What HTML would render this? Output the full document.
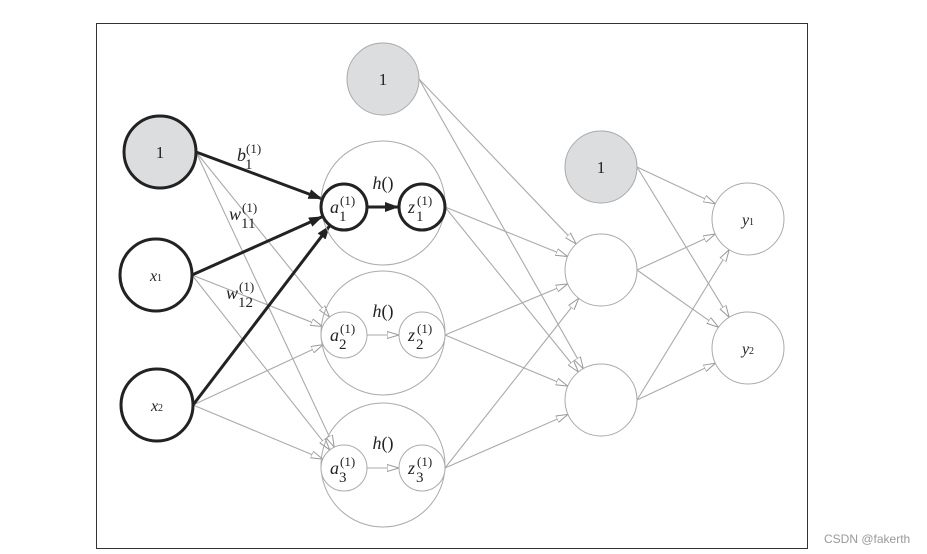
<!DOCTYPE html>
<html><head><meta charset="utf-8"><style>
html,body{margin:0;padding:0;background:#fff;width:927px;height:554px;overflow:hidden}
svg{display:block}
text{font-family:"Liberation Serif",serif;fill:#222}
.it{font-style:italic}
</style></head><body>
<svg id="s" width="927" height="554" viewBox="0 0 927 554" xmlns="http://www.w3.org/2000/svg">
<defs>
<marker id="ho" viewBox="0 0 12 8" refX="12" refY="4" markerWidth="12" markerHeight="8" markerUnits="userSpaceOnUse" orient="auto"><path d="M0,0.5 L12,4 L0,7.5 Z" fill="#fff" stroke="#999" stroke-width="1"/></marker>
<marker id="hf" viewBox="0 0 14 10" refX="14" refY="5" markerWidth="14" markerHeight="10" markerUnits="userSpaceOnUse" orient="auto"><path d="M0,0 L14,5 L0,10 Z" fill="#222"/></marker>
</defs>
<rect x="96.5" y="23.5" width="711" height="525" fill="none" stroke="#333" stroke-width="1"/>
<g id="edges"></g>
<g id="nodes"></g>
<text x="824" y="543" style="font-family:'Liberation Sans',sans-serif;font-size:12px;fill:#999">CSDN @fakerth</text>
</svg>
<script>
const NS="http://www.w3.org/2000/svg";
const E=document.getElementById('edges'),N=document.getElementById('nodes');
function el(p,t,a){const e=document.createElementNS(NS,t);for(const k in a)e.setAttribute(k,a[k]);p.appendChild(e);return e;}
const n={
 b1:[160,152,36],x1:[156,275,36],x2:[157,405,36],
 tb:[383,79,36],
 a1:[344,207,23],z1:[422,207,23],a2:[344,335,23],z2:[422,335,23],a3:[344,468,23],z3:[422,468,23],
 b2:[601,167,36],h1:[601,270,36],h2:[601,400,36],y1:[748,219,36],y2:[748,348,36]};
function edge(a,b,thick){const A=n[a],B=n[b];const sx=A[0]+A[2],sy=A[1];
 const dx=B[0]-sx,dy=B[1]-sy,d=Math.hypot(dx,dy);
 const ux=dx/d,uy=dy/d;
 el(E,'line',{x1:sx,y1:sy,x2:B[0]-ux*B[2],y2:B[1]-uy*B[2],stroke:thick?'#222':'#aaa','stroke-width':thick?3:1.1,'marker-end':thick?'url(#hf)':'url(#ho)'});}
['b1','x1','x2'].forEach(s=>{edge(s,'a2');edge(s,'a3');});
edge('a2','z2');edge('a3','z3');
['tb','z1','z2','z3'].forEach(s=>{edge(s,'h1');edge(s,'h2');});
['b2','h1','h2'].forEach(s=>{edge(s,'y1');edge(s,'y2');});
['b1','x1','x2'].forEach(s=>edge(s,'a1',1));
edge('a1','z1',1);
[203,333,465].forEach(y=>el(N,'circle',{cx:383,cy:y,r:62,fill:'none',stroke:'#aaa','stroke-width':1}));
function circ(k,fill,stroke,w){const c=n[k];el(N,'circle',{cx:c[0],cy:c[1],r:c[2],fill:fill,stroke:stroke,'stroke-width':w});}
circ('b1','#dcdddf','#222',3);circ('x1','#fff','#222',3);circ('x2','#fff','#222',3);
circ('tb','#dcdddf','#aaa',1);circ('b2','#dcdddf','#aaa',1);
['h1','h2','y1','y2'].forEach(k=>circ(k,'#fff','#aaa',1));
circ('a1','#fff','#222',3);circ('z1','#fff','#222',3);
['a2','z2','a3','z3'].forEach(k=>circ(k,'#fff','#aaa',1));
function txt(x,y,s,size){const t=el(N,'text',{x:x,y:y,'font-size':size,'text-anchor':'middle'});t.innerHTML=s;return t;}
txt(160,158,'1',17);txt(383,85,'1',17);txt(601,173,'1',17);
txt(156,281,'<tspan class="it">x</tspan><tspan font-size="10">1</tspan>',16);
txt(157,411,'<tspan class="it">x</tspan><tspan font-size="10">2</tspan>',16);
txt(748,225,'<tspan class="it">y</tspan><tspan font-size="10">1</tspan>',16);
txt(748,354,'<tspan class="it">y</tspan><tspan font-size="10">2</tspan>',16);
function sub(x,y,v,i,w){w=w||10;
 const t=el(N,'text',{x:x,y:y,'font-size':18,'class':'it'});t.textContent=v;
 const s=el(N,'text',{x:x+w,y:y-8,'font-size':13});s.textContent='(1)';
 const b=el(N,'text',{x:x+w-1,y:y+8,'font-size':15});b.textContent=i;}
sub(330,213,'a','1');sub(408,213,'z','1',9);
sub(330,341,'a','2');sub(408,341,'z','2',9);
sub(330,474,'a','3');sub(408,474,'z','3',9);
[189,317,449].forEach(y=>txt(383,y,'<tspan class="it">h</tspan>()',18));
sub(237,161,'b','1',9);sub(229,220,'w','11',13);sub(226,299,'w','12',13);
</script>
</body></html>
